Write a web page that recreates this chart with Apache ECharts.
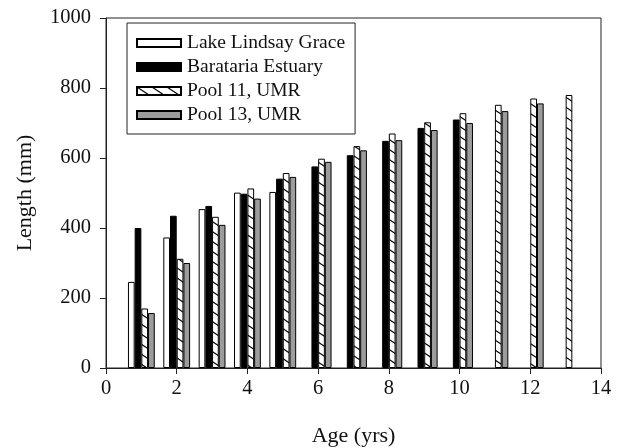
<!doctype html>
<html lang="en">
<head>
  <meta charset="UTF-8">
  <title>Length at age</title>
  <script src="https://cdn.jsdelivr.net/npm/echarts@6/dist/echarts.min.js"></script>
  <style>
    html, body { margin: 0; padding: 0; background: #fff; }
    #chart { width: 619px; height: 448px; }
  </style>
</head>
<body>
<div id="chart"></div>
<script>
  // ages (yrs) and mean length (mm) per population
  var lakeAges = [1, 2, 3, 4, 5];
  var lakeLen = [246, 373, 454, 501, 503];
  var baraAges = [1, 2, 3, 4, 5, 6, 7, 8, 9, 10];
  var baraLen = [400, 435, 463, 498, 541, 576, 608, 649, 686, 710];
  var pool11Ages = [1, 2, 3, 4, 5, 6, 7, 8, 9, 10, 11, 12, 13];
  var pool11Len = [170, 312, 432, 513, 557, 598, 634, 670, 702, 728, 752, 770, 780];
  var pool13Ages = [1, 2, 3, 4, 5, 6, 7, 8, 9, 10, 11, 12];
  var pool13Len = [157, 300, 409, 484, 546, 589, 622, 651, 680, 700, 734, 756];
  var seriesNames = ['Lake Lindsay Grace', 'Barataria Estuary', 'Pool 11, UMR', 'Pool 13, UMR'];

  function pairs(xs, ys) {
    return xs.map(function (x, i) { return [x, ys[i]]; });
  }

  // "\" hatch tile for Pool 11
  function hatchTile() {
    var c = document.createElement('canvas');
    c.width = 15; c.height = 10;
    var ctx = c.getContext('2d');
    ctx.fillStyle = '#fff';
    ctx.fillRect(0, 0, 15, 10);
    ctx.strokeStyle = '#000';
    ctx.lineWidth = 1.1;
    [[0, 0], [0, -10], [0, 10], [-15, 0], [15, 0]].forEach(function (o) {
      ctx.beginPath();
      ctx.moveTo(o[0], o[1]);
      ctx.lineTo(o[0] + 15, o[1] + 10);
      ctx.stroke();
    });
    return c;
  }

  var font = 'Liberation Serif';
  var barW = 6.7;

  function barStyle(fill) {
    return { color: fill, borderColor: '#000', borderWidth: 1 };
  }

  var chart = echarts.init(document.getElementById('chart'));
  var option = {
    animation: false,
    textStyle: { fontFamily: font, color: '#111' },
    grid: {
      left: 106, right: 18, top: 18, bottom: 80,
      containLabel: false,
      outerBoundsMode: 'none',
      show: true, borderColor: '#222', borderWidth: 1
    },
    legend: {
      orient: 'vertical',
      left: 127, top: 23,
      padding: [10, 10, 9, 9],
      itemGap: 4,
      itemWidth: 44, itemHeight: 8,
      icon: 'rect',
      borderColor: '#222', borderWidth: 1,
      backgroundColor: '#fff',
      textStyle: { fontFamily: font, fontSize: 19.5, color: '#111', lineHeight: 20, padding: [0, 0, 0, 1] },
      data: seriesNames
    },
    xAxis: {
      type: 'value',
      min: 0, max: 14, interval: 2,
      name: 'Age (yrs)',
      nameLocation: 'middle',
      nameGap: 57,
      nameTextStyle: { fontFamily: font, fontSize: 22, color: '#111' },
      axisLine: { lineStyle: { color: '#222' } },
      axisTick: { show: true, length: 6, lineStyle: { color: '#222' } },
      axisLabel: { fontFamily: font, fontSize: 20.5, color: '#111', margin: 10 },
      splitLine: { show: false }
    },
    yAxis: {
      type: 'value',
      min: 0, max: 1000, interval: 200,
      name: 'Length (mm)',
      nameLocation: 'middle',
      nameGap: 70,
      nameTextStyle: { fontFamily: font, fontSize: 22, color: '#111' },
      axisLine: { show: true, lineStyle: { color: '#222' } },
      axisTick: { show: true, length: 6, lineStyle: { color: '#222' } },
      axisLabel: {
        fontFamily: font, fontSize: 20.5, color: '#111', margin: 15,
        formatter: function (v) { return String(v); }
      },
      splitLine: { show: false }
    },
    series: [
      {
        name: seriesNames[0], type: 'bar', barWidth: barW, barGap: '0%',
        itemStyle: barStyle('#fff'),
        data: pairs(lakeAges, lakeLen)
      },
      {
        name: seriesNames[1], type: 'bar', barWidth: barW, barGap: '0%',
        itemStyle: barStyle('#000'),
        data: pairs(baraAges, baraLen)
      },
      {
        name: seriesNames[2], type: 'bar', barWidth: barW, barGap: '0%',
        itemStyle: barStyle({ image: hatchTile(), repeat: 'repeat' }),
        data: pairs(pool11Ages, pool11Len)
      },
      {
        name: seriesNames[3], type: 'bar', barWidth: barW, barGap: '0%',
        itemStyle: barStyle('#9c9c9c'),
        data: pairs(pool13Ages, pool13Len)
      }
    ]
  };
  chart.setOption(option);
</script>
</body>
</html>
